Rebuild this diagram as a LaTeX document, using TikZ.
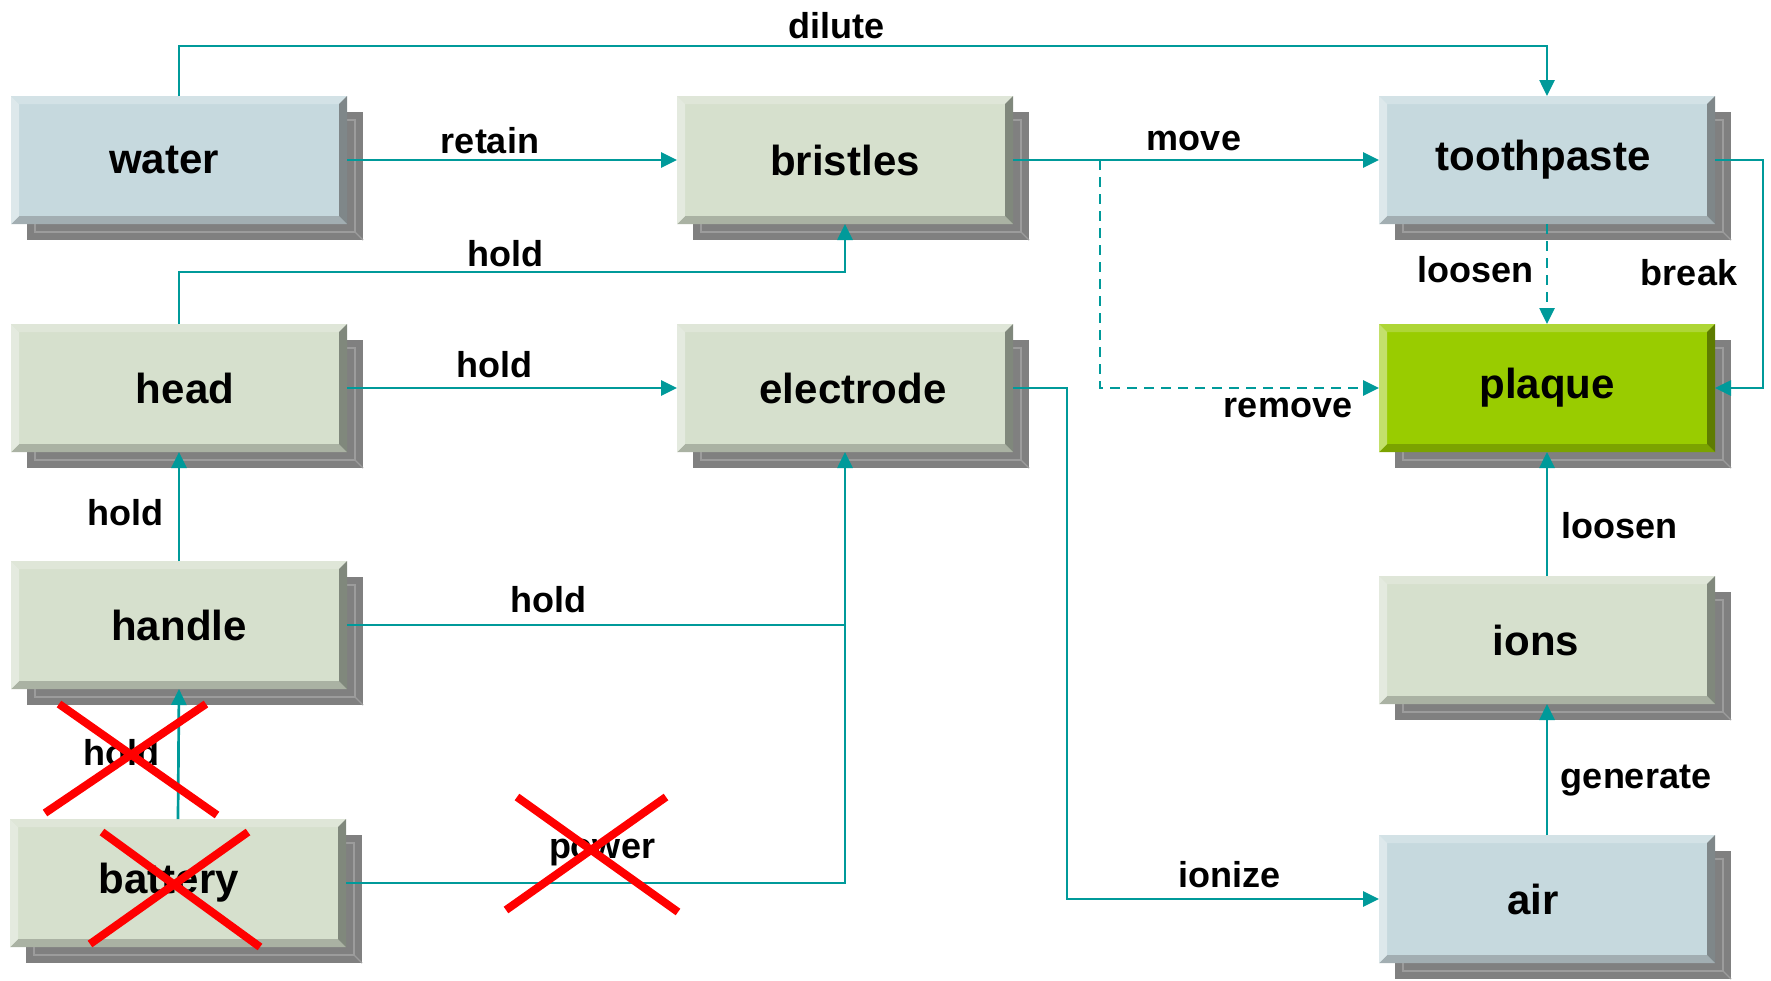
\documentclass[tikz,border=0pt]{standalone}
\usepackage{fontspec}
\setmainfont{Liberation Sans}
\usetikzlibrary{arrows.meta,backgrounds}

\definecolor{boxblue}{HTML}{C6D9DE}
\definecolor{blueT}{HTML}{D3E2E6}
\definecolor{blueL}{HTML}{DDE8EB}
\definecolor{blueR}{HTML}{7F8789}
\definecolor{blueB}{HTML}{A2AEB2}
\definecolor{boxgreen}{HTML}{D6E0CD}
\definecolor{greenT}{HTML}{DFE6D8}
\definecolor{greenL}{HTML}{E4EADF}
\definecolor{greenR}{HTML}{80887C}
\definecolor{greenB}{HTML}{AAB2A3}
\definecolor{boxlime}{HTML}{99CC00}
\definecolor{limeT}{HTML}{AED636}
\definecolor{limeL}{HTML}{C3E06B}
\definecolor{limeR}{HTML}{5E7C00}
\definecolor{limeB}{HTML}{7BA300}
\definecolor{shadowgray}{HTML}{808080}
\definecolor{shadowline}{HTML}{9C9C9C}
\definecolor{linkteal}{HTML}{009A9A}

% bevelled edges of a box: top, left, right, bottom
\newcommand\boxbevel[4]{%
  \path (path picture bounding box.north west) coordinate (bnw)
        (path picture bounding box.north east) coordinate (bne)
        (path picture bounding box.south west) coordinate (bsw)
        (path picture bounding box.south east) coordinate (bse);
  \fill[#1] (bnw) -- (bne) -- ([shift={(-8pt,-8pt)}]bne) -- ([shift={(8pt,-8pt)}]bnw) -- cycle;
  \fill[#4] (bsw) -- (bse) -- ([shift={(-8pt,8pt)}]bse) -- ([shift={(8pt,8pt)}]bsw) -- cycle;
  \fill[#2] (bnw) -- (bsw) -- ([shift={(8pt,8pt)}]bsw) -- ([shift={(8pt,-8pt)}]bnw) -- cycle;
  \fill[#3] (bne) -- (bse) -- ([shift={(-8pt,8pt)}]bse) -- ([shift={(-8pt,-8pt)}]bne) -- cycle;
}

\tikzset{
  box/.style={minimum width=336pt, minimum height=128pt, inner sep=0pt, outer sep=0pt,
    font=\fontsize{42}{48}\selectfont\bfseries},
  bluebox/.style={box, fill=boxblue, path picture={\boxbevel{blueT}{blueL}{blueR}{blueB}}},
  greenbox/.style={box, fill=boxgreen, path picture={\boxbevel{greenT}{greenL}{greenR}{greenB}}},
  limebox/.style={box, fill=boxlime, path picture={\boxbevel{limeT}{limeL}{limeR}{limeB}}},
  textleft/.style={execute at begin node={\hspace*{-#1}}, execute at end node={\hspace*{#1}}},
  link/.style={draw=linkteal, line width=2.7pt},
  tip/.style={-{Triangle[length=16pt,width=15pt]}},
  dashlink/.style={link, dash pattern=on 10pt off 7pt},
  lbl/.style={font=\fontsize{36}{40}\selectfont\bfseries, inner sep=0pt, text height=26pt, text depth=0pt},
  strike/.style={draw=red, line width=8pt}
}

\begin{document}
\begin{tikzpicture}[x=1pt,y=-1pt]

\useasboundingbox (0,0) rectangle (1771,980);

% boxes
\node[bluebox,textleft=15pt]  (water)      at (179,160)  {water};
\node[greenbox]               (bristles)   at (845,160)  {bristles};
\node[bluebox,textleft=4pt]   (toothpaste) at (1547,160) {toothpaste};
\node[greenbox,textleft=-6pt] (head)       at (179,388)  {head};
\node[greenbox,textleft=-8pt] (electrode)  at (845,388)  {electrode};
\node[limebox]                (plaque)     at (1547,388) {plaque};
\node[greenbox]               (handle)     at (179,625)  {handle};
\node[greenbox,textleft=11pt] (ions)       at (1547,640) {ions};
\node[greenbox,textleft=9pt]  (battery)    at (178,883)  {battery};
\node[bluebox,textleft=14pt]  (air)        at (1547,899) {air};

% shadows
\begin{scope}[on background layer]
\foreach \n in {water,bristles,toothpaste,head,electrode,plaque,handle,ions,battery,air}{
  \fill[shadowgray] ([shift={(16pt,-16pt)}]\n.south west) rectangle ([shift={(16pt,-16pt)}]\n.north east);
  \draw[shadowline,line width=1.2pt] ([shift={(24pt,-8pt)}]\n.south west) rectangle ([shift={(8pt,-24pt)}]\n.north east);
  \draw[shadowline,line width=1.2pt] ([shift={(16pt,-16pt)}]\n.south east) -- ([shift={(8pt,-8pt)}]\n.south east);
}
\end{scope}

% connectors
\draw[link,tip] (water.north) -- ([yshift=50pt]water.north) -| (toothpaste.north);
\draw[link,tip] (water.east) -- (bristles.west);
\draw[link,tip] (bristles.east) -- (toothpaste.west);
\coordinate (fork) at (1100,160);
\draw[dashlink,tip] (fork) |- (plaque.west);
\draw[dashlink,tip] (toothpaste.south) -- (plaque.north);
\draw[link,tip] (toothpaste.east) -- ++(48,0) |- (plaque.east);
\draw[link,tip] (head.north) -- ([yshift=52pt]head.north) -| (bristles.south);
\draw[link,tip] (head.east) -- (electrode.west);
\draw[link,tip] (handle.north) -- (head.south);
\draw[link,tip] (handle.east) -| (electrode.south);
\coordinate (join) at (electrode.south |- handle.east);
\draw[link,tip] (battery.north) -- (handle.south);
\draw[link] (battery.east) -| (join);
\draw[link,tip] (electrode.east) -- ++(54,0) |- (air.west);
\draw[link,tip] (air.north) -- (ions.south);
\draw[link,tip] (ions.north) -- (plaque.south);

% labels
\node[lbl] (lDilute)   at (836,25)   {dilute};
\node[lbl] (lRetain)   at (490,140)  {retain};
\node[lbl] (lMove)     at (1194,137) {move};
\node[lbl] (lRemove)   at (1288,404) {remove};
\node[lbl] (lLoosenA)  at (1475,269) {loosen};
\node[lbl] (lBreak)    at (1689,272) {break};
\node[lbl] (lHoldA)    at (505,253)  {hold};
\node[lbl] (lHoldB)    at (494,364)  {hold};
\node[lbl] (lHoldC)    at (125,512)  {hold};
\node[lbl] (lHoldD)    at (548,599)  {hold};
\node[lbl] (lHoldE)    at (121,752)  {hold};
\node[lbl] (lPower)    at (602,845)  {power};
\node[lbl] (lIonize)   at (1229,874) {ionize};
\node[lbl] (lGenerate) at (1636,775) {generate};
\node[lbl] (lLoosenB)  at (1619,525) {loosen};

% crossed out
\draw[strike] (59,704) -- (217,815) (45,813) -- (206,704);
\draw[strike] (102,832) -- (260,947) (90,944) -- (248,832);
\draw[strike] (517,797) -- (678,912) (506,910) -- (666,797);

\end{tikzpicture}
\end{document}
